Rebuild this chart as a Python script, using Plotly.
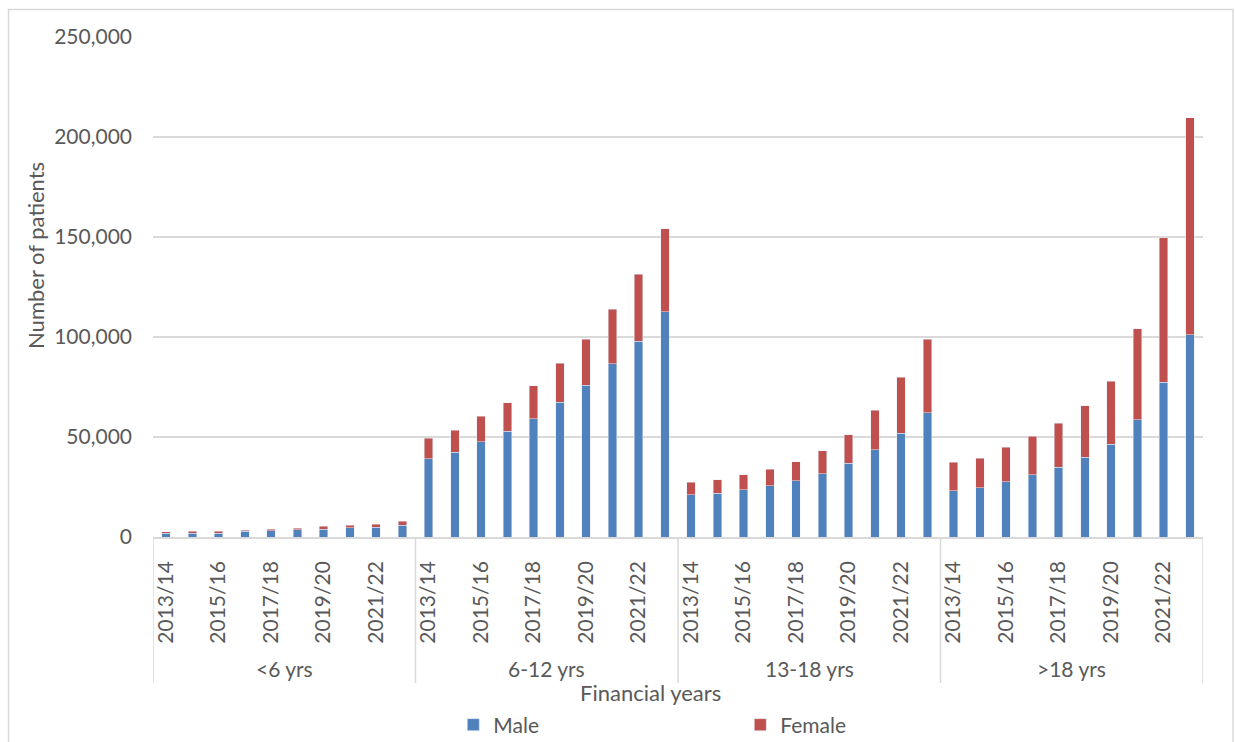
import plotly.graph_objects as go

# Age groups and financial years (x axis is two-level: group, then year)
age_groups = ["<6 yrs", "6-12 yrs", "13-18 yrs", ">18 yrs"]
years = ["2013/14", "2014/15", "2015/16", "2016/17", "2017/18",
         "2018/19", "2019/20", "2020/21", "2021/22", "2022/23"]

# Number of male patients per age group, by financial year
male_lt6 = [2000, 2000, 2000, 2800, 3200, 3700, 4000, 4700, 5000, 6000]
male_6_12 = [39200, 42500, 47700, 52900, 59100, 67300, 75900, 86600, 97800, 112600]
male_13_18 = [21200, 21800, 23700, 25700, 28200, 31700, 37000, 43700, 52000, 62200]
male_gt18 = [23200, 24700, 27700, 31200, 34800, 39800, 46500, 58700, 77500, 101200]

# Number of female patients per age group, by financial year
female_lt6 = [700, 1000, 1000, 700, 650, 800, 1500, 1300, 1500, 1850]
female_6_12 = [10200, 10900, 12600, 14300, 16600, 19500, 23100, 27300, 33500, 41500]
female_13_18 = [6300, 6900, 7500, 8100, 9500, 11500, 14200, 19800, 27800, 36600]
female_gt18 = [14300, 14600, 17100, 19300, 22000, 25900, 31300, 45500, 72200, 108500]

male = male_lt6 + male_6_12 + male_13_18 + male_gt18
female = female_lt6 + female_6_12 + female_13_18 + female_gt18

n_years = len(years)
x_pos = list(range(len(age_groups) * n_years))

FONT = "Lato"
TXT = "#595959"
GRID = "#D9D9D9"

fig = go.Figure()
fig.add_trace(go.Bar(x=x_pos, y=male, name="Male", marker_color="#4F81BD",
                     width=0.32))
fig.add_trace(go.Bar(x=x_pos, y=female, name="Female", marker_color="#C0504D",
                     width=0.32))

# every other year is labelled under each group
tick_vals = [g * n_years + j for g in range(len(age_groups)) for j in range(0, n_years, 2)]
tick_text = [years[j] for g in range(len(age_groups)) for j in range(0, n_years, 2)]

shapes = []
# vertical separators between age groups, running through the label area
for g in range(len(age_groups) + 1):
    xb = g * n_years - 0.5
    shapes.append(dict(type="line", xref="x", yref="paper", x0=xb, x1=xb,
                       y0=0, y1=-0.292, line=dict(color=GRID, width=1.5)))
# chart frame
shapes.append(dict(type="rect", xref="paper", yref="paper",
                   x0=-0.1376, x1=1.0286, y0=1.055, y1=-0.45,
                   line=dict(color=GRID, width=1.5), fillcolor="rgba(0,0,0,0)"))

annotations = []
for g, name in enumerate(age_groups):
    annotations.append(dict(x=g * n_years + (n_years - 1) / 2, y=-0.262, xref="x", yref="paper",
                            text=name, showarrow=False, yanchor="middle",
                            font=dict(family=FONT, size=21, color=TXT)))
annotations.append(dict(x=0.474, y=-0.31, xref="paper", yref="paper",
                        text="Financial years", showarrow=False, yanchor="middle",
                        font=dict(family=FONT, size=22, color=TXT)))
annotations.append(dict(x=-0.1124, y=0.564, xref="paper", yref="paper",
                        text="Number of patients", showarrow=False, textangle=-90,
                        xanchor="center", yanchor="middle",
                        font=dict(family=FONT, size=22, color=TXT)))

fig.update_layout(
    barmode="stack",
    width=1235, height=742,
    margin=dict(l=153, r=32, t=37, b=205, autoexpand=False),
    paper_bgcolor="white", plot_bgcolor="white",
    font=dict(family=FONT, size=21, color=TXT),
    showlegend=True,
    legend=dict(orientation="h", x=0.286, xanchor="left", y=-0.376, yanchor="middle",
                entrywidth=242, entrywidthmode="pixels",
                font=dict(family=FONT, size=21, color=TXT), traceorder="normal"),
    shapes=shapes,
    annotations=annotations,
    xaxis=dict(range=[-0.5, len(x_pos) - 0.5], tickmode="array", tickvals=tick_vals,
               ticktext=tick_text, tickangle=-90, showgrid=False, zeroline=False,
               showline=True, linecolor=GRID, linewidth=1.5, ticks="",
               ticklabelstandoff=14, automargin=False,
               tickfont=dict(family=FONT, size=21, color=TXT)),
    yaxis=dict(range=[0, 250000], tickvals=[0, 50000, 100000, 150000, 200000, 250000],
               tickformat=",d", showgrid=True, gridcolor=GRID, gridwidth=1.5,
               zeroline=False, showline=False, ticks="", ticklabelstandoff=20,
               automargin=False, tickfont=dict(family=FONT, size=21, color=TXT)),
)

fig.write_html("out.html")
